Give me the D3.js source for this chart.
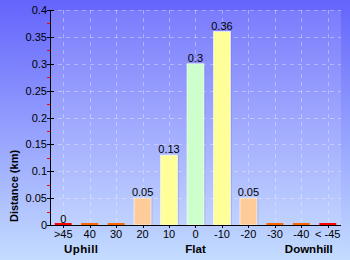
<!DOCTYPE html>
<html>
<head>
<meta charset="utf-8">
<script src="https://cdn.jsdelivr.net/npm/d3@7"></script>
<style>
  body { margin: 0; padding: 0; overflow: hidden; }
  text { font-family: "Liberation Sans", Arial, sans-serif; }
</style>
</head>
<body>
<script>
// gradient categories, left = uphill, right = downhill
var categories = ['>45', '40', '30', '20', '10', '0', '-10', '-20', '-30', '-40', '< -45'];
var distances = [0, 0, 0, 0.05, 0.13, 0.3, 0.36, 0.05, 0, 0, 0];
var valueLabels = ['0', '', '', '0.05', '0.13', '0.3', '0.36', '0.05', '', '', ''];
var barColors = ['#ff0000', '#ff6600', '#ff6600', '#ffcc99', '#ffff99', '#ccffcc', '#ffff99', '#ffcc99', '#ff6600', '#ff6600', '#ff0000'];
var yTicks = [0, 0.05, 0.1, 0.15, 0.2, 0.25, 0.3, 0.35, 0.4];
var yMinorTicks = [0.025, 0.075, 0.125, 0.175, 0.225, 0.275, 0.325, 0.375];

const width = 350, height = 260;
const plotLeft = 50, plotRight = 341, plotTop = 10, plotBottom = 225;

const svg = d3.select('body').append('svg')
  .attr('width', width)
  .attr('height', height);

const defs = svg.append('defs');
const grad = defs.append('linearGradient')
  .attr('id', 'bg')
  .attr('x1', 0).attr('y1', 0).attr('x2', 0).attr('y2', 1);
grad.append('stop').attr('offset', '0%').attr('stop-color', '#6464fc');
grad.append('stop').attr('offset', '100%').attr('stop-color', '#c4dcff');

svg.append('rect')
  .attr('width', width).attr('height', height)
  .attr('fill', 'url(#bg)');

// lighter plot area
svg.append('rect')
  .attr('x', plotLeft).attr('y', plotTop)
  .attr('width', plotRight - plotLeft).attr('height', plotBottom - plotTop)
  .attr('fill', '#ffffff').attr('fill-opacity', 0.13);

const x = d3.scaleBand()
  .domain(categories)
  .range([plotLeft, plotRight])
  .paddingInner(0.36)
  .paddingOuter(0.18);

const y = d3.scaleLinear()
  .domain([0, 0.4])
  .range([plotBottom, plotTop]);

const cx = d => x(d) + x.bandwidth() / 2;

// grid
const grid = svg.append('g')
  .attr('stroke', '#ffffff')
  .attr('stroke-opacity', 0.35)
  .attr('stroke-dasharray', '4,4');

grid.selectAll('line.h')
  .data(yTicks.slice(1))
  .enter().append('line')
  .attr('class', 'h')
  .attr('x1', plotLeft).attr('x2', plotRight)
  .attr('y1', d => Math.round(y(d)) + 0.5).attr('y2', d => Math.round(y(d)) + 0.5);

grid.selectAll('line.v')
  .data(categories)
  .enter().append('line')
  .attr('class', 'v')
  .attr('x1', d => Math.round(cx(d)) + 0.5)
  .attr('x2', d => Math.round(cx(d)) + 0.5)
  .attr('y1', plotTop).attr('y2', plotBottom);

// bars
const bars = svg.selectAll('g.bar')
  .data(categories)
  .enter().append('g')
  .attr('class', 'bar');

// soft shadow on the right of the taller bars
bars.filter((d, i) => distances[i] > 0)
  .append('rect')
  .attr('x', d => x(d) + 1.5)
  .attr('y', d => y(distances[categories.indexOf(d)]))
  .attr('width', x.bandwidth())
  .attr('height', d => plotBottom - y(distances[categories.indexOf(d)]))
  .attr('fill', '#6670b0')
  .attr('fill-opacity', 0.25);

bars.append('rect')
  .attr('x', d => x(d))
  .attr('y', (d, i) => y(distances[i]) - (distances[i] == 0 ? 2 : 0))
  .attr('width', x.bandwidth())
  .attr('height', (d, i) => Math.max(2, plotBottom - y(distances[i])))
  .attr('fill', (d, i) => barColors[i])
  .attr('stroke', (d, i) => distances[i] == 0 ? 'none' : '#ffffff')
  .attr('stroke-opacity', 0.6)
  .attr('stroke-width', 1);

bars.append('text')
  .attr('x', cx)
  .attr('y', (d, i) => y(distances[i]) - 2)
  .attr('text-anchor', 'middle')
  .attr('font-size', 11)
  .attr('fill', '#000')
  .text((d, i) => valueLabels[i]);

// y axis
const yAxis = svg.append('g').attr('transform', `translate(${plotLeft},0)`);
yAxis.append('line')
  .attr('x1', 0.5).attr('x2', 0.5)
  .attr('y1', plotTop).attr('y2', plotBottom)
  .attr('stroke', '#000');
yAxis.selectAll('line.minor')
  .data(yMinorTicks)
  .enter().append('line')
  .attr('class', 'minor')
  .attr('x1', -3).attr('x2', 0)
  .attr('y1', d => Math.round(y(d)) + 0.5).attr('y2', d => Math.round(y(d)) + 0.5)
  .attr('stroke', '#ff0000');
yAxis.selectAll('line.major')
  .data(yTicks)
  .enter().append('line')
  .attr('class', 'major')
  .attr('x1', -3).attr('x2', 4)
  .attr('y1', d => Math.round(y(d)) + 0.5).attr('y2', d => Math.round(y(d)) + 0.5)
  .attr('stroke', '#000');
yAxis.selectAll('text')
  .data(yTicks)
  .enter().append('text')
  .attr('x', -3)
  .attr('y', d => y(d) + 4)
  .attr('text-anchor', 'end')
  .attr('font-size', 11)
  .text(d => d);

// x axis
const xAxis = svg.append('g').attr('transform', `translate(0,${plotBottom})`);
xAxis.append('line')
  .attr('x1', plotLeft - 3).attr('x2', plotRight)
  .attr('y1', 0.5).attr('y2', 0.5)
  .attr('stroke', '#000');
xAxis.selectAll('line.tick')
  .data(categories)
  .enter().append('line')
  .attr('class', 'tick')
  .attr('x1', d => Math.round(cx(d)) + 0.5)
  .attr('x2', d => Math.round(cx(d)) + 0.5)
  .attr('y1', 0).attr('y2', 3)
  .attr('stroke', '#000');
xAxis.selectAll('text')
  .data(categories)
  .enter().append('text')
  .attr('x', cx)
  .attr('y', 13)
  .attr('text-anchor', 'middle')
  .attr('font-size', 11)
  .text(d => d);

// axis titles
svg.append('text')
  .attr('transform', 'translate(18,186) rotate(-90)')
  .attr('text-anchor', 'middle')
  .attr('font-size', 11)
  .attr('font-weight', 'bold')
  .text('Distance (km)');

svg.append('text')
  .attr('x', x('40'))
  .attr('y', 253)
  .attr('text-anchor', 'middle')
  .attr('font-size', 11.5)
  .attr('font-weight', 'bold')
  .attr('letter-spacing', 0.4)
  .text('Uphill');

svg.append('text')
  .attr('x', cx('0'))
  .attr('y', 253)
  .attr('text-anchor', 'middle')
  .attr('font-size', 11.5)
  .attr('font-weight', 'bold')
  .text('Flat');

svg.append('text')
  .attr('x', cx('< -45') + 5)
  .attr('y', 253)
  .attr('text-anchor', 'end')
  .attr('font-size', 11.5)
  .attr('font-weight', 'bold')
  .text('Downhill');
</script>
</body>
</html>
